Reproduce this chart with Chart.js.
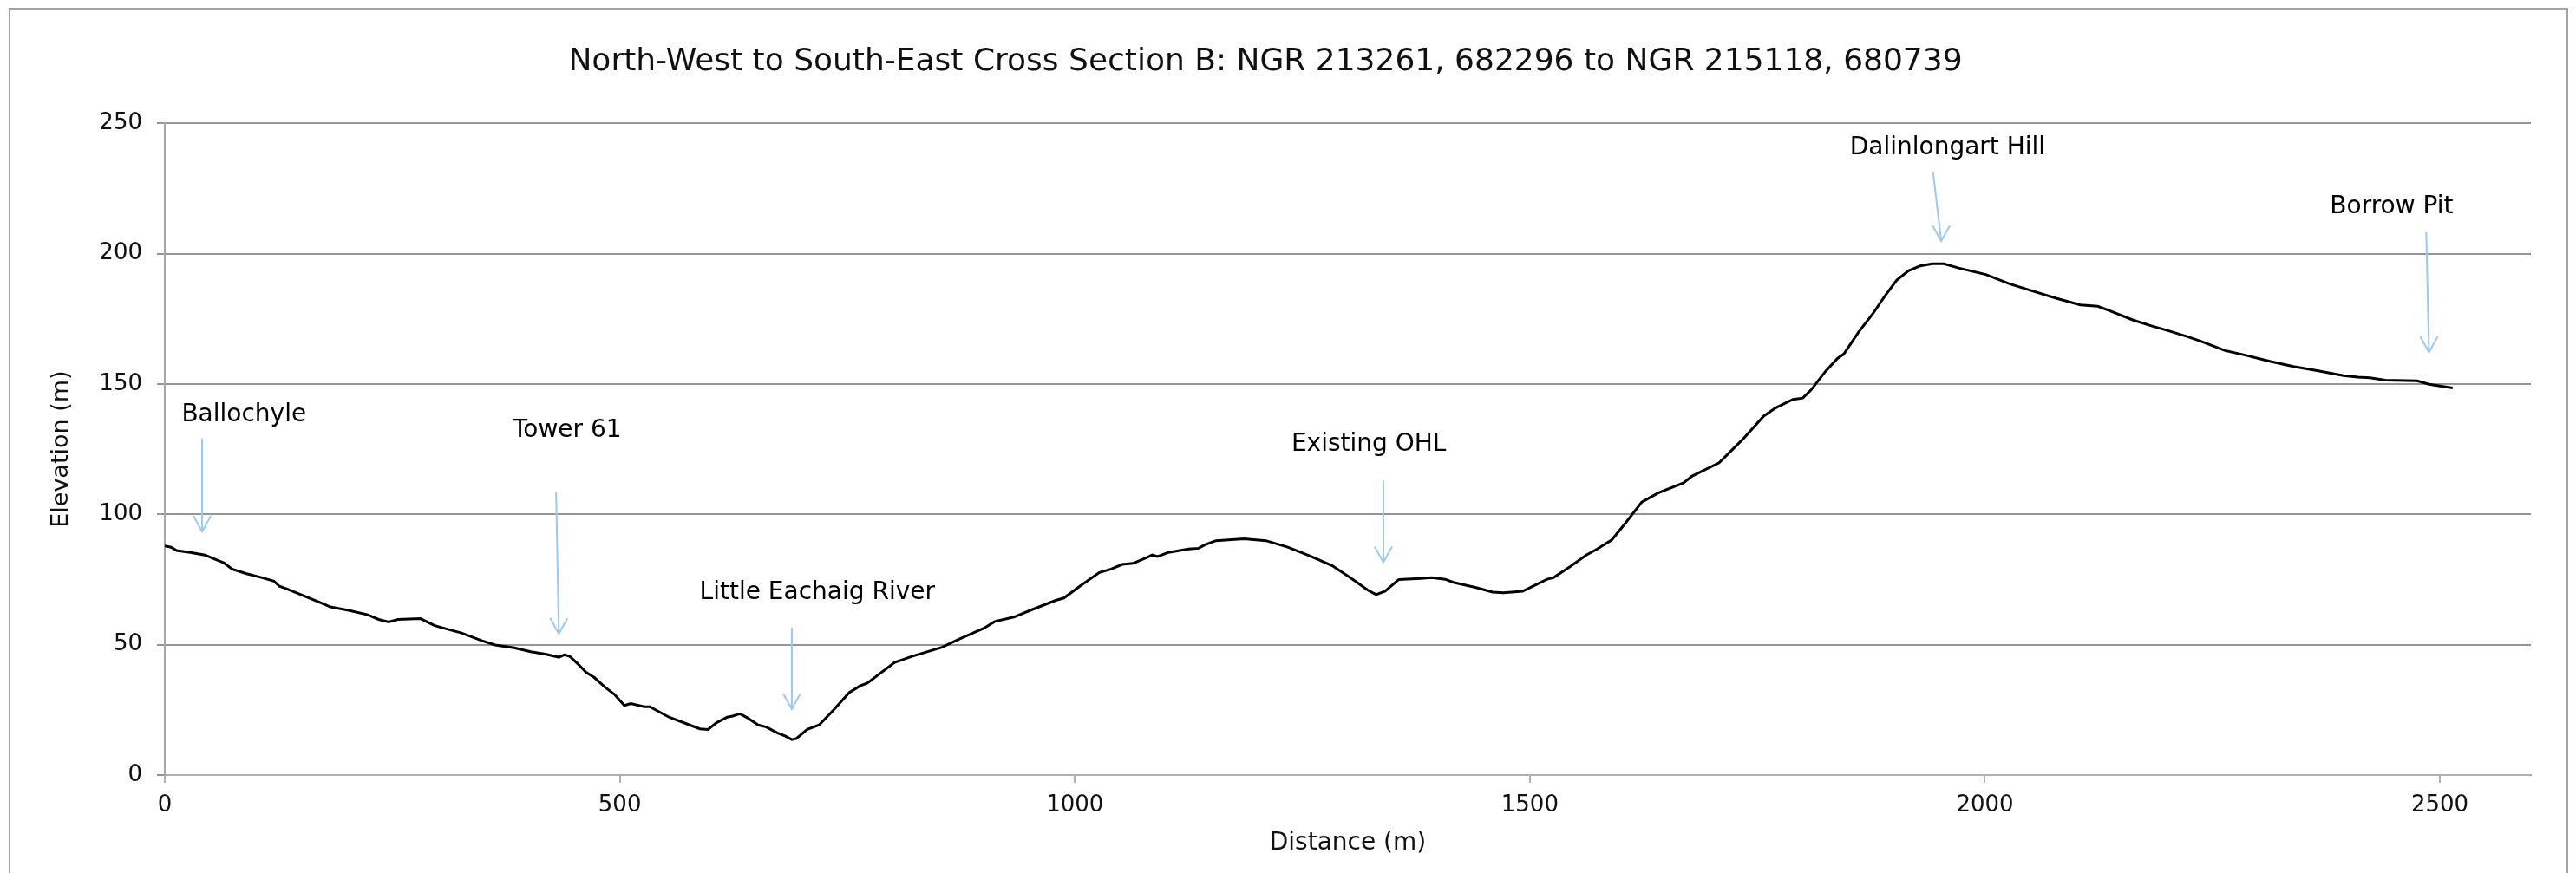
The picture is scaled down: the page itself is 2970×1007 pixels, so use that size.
<!DOCTYPE html>
<html>
<head>
<meta charset="utf-8">
<title>Cross Section B</title>
<script src="https://cdn.jsdelivr.net/npm/chart.js@4.4.1/dist/chart.umd.min.js"></script>
<style>
    html, body { margin: 0; padding: 0; background: #fff; }
    canvas { display: block; }
</style>
</head>
<body>
<canvas id="sectionChart" width="2970" height="1007"></canvas>
<script>
// profile
const distances = [
    0, 7, 13, 28, 44, 56, 65, 74, 89, 107, 120, 126, 135, 153, 171, 182, 202, 223, 235, 246,
    256, 281, 296, 305, 326, 348, 363, 384, 402, 418, 433, 439, 445, 454, 463, 472, 484, 494, 505, 512,
    527, 533, 554, 573, 588, 597, 606, 618, 624, 632, 640, 652, 661, 673, 682, 689, 694, 706, 719, 734,
    752, 764, 772, 802, 821, 854, 872, 900, 912, 933, 954, 979, 988, 1006, 1027, 1040, 1052, 1064, 1079, 1085,
    1091, 1103, 1125, 1136, 1143, 1155, 1186, 1210, 1234, 1258, 1283, 1304, 1322, 1331, 1341, 1356, 1380, 1392, 1407, 1416,
    1441, 1459, 1471, 1492, 1502, 1519, 1526, 1544, 1562, 1574, 1590, 1605, 1623, 1641, 1669, 1678, 1708, 1734, 1757, 1770,
    1789, 1800, 1809, 1825, 1838, 1845, 1861, 1877, 1890, 1903, 1916, 1929, 1942, 1955, 1971, 2001, 2027, 2053, 2079, 2105,
    2124, 2137, 2163, 2183, 2202, 2222, 2238, 2264, 2287, 2313, 2339, 2365, 2394, 2410, 2423, 2440, 2475, 2488, 2514
];
const elevations = [
    87.9, 87.4, 86.1, 85.4, 84.4, 82.7, 81.4, 79.0, 77.3, 75.7, 74.4, 72.4, 71.3, 68.7, 66.1, 64.5, 63.2, 61.5, 59.7, 58.7,
    59.7, 60.0, 57.4, 56.5, 54.5, 51.6, 49.9, 48.8, 47.3, 46.4, 45.2, 46.1, 45.5, 42.6, 39.4, 37.4, 33.6, 31.0, 26.7, 27.4,
    26.2, 26.2, 22.2, 19.7, 17.7, 17.5, 20.0, 22.2, 22.6, 23.5, 22.0, 19.2, 18.4, 16.2, 14.9, 13.6, 14.0, 17.5, 19.2, 24.6,
    31.6, 34.2, 35.3, 43.2, 45.5, 49.0, 52.0, 56.3, 58.9, 60.6, 63.6, 67.0, 67.9, 72.6, 77.7, 79.0, 80.8, 81.2, 83.4, 84.4,
    83.8, 85.4, 86.7, 87.0, 88.3, 89.9, 90.6, 89.9, 87.4, 84.1, 80.3, 75.4, 70.9, 69.2, 70.5, 75.0, 75.4, 75.7, 75.1, 73.9,
    71.9, 70.2, 69.9, 70.5, 72.2, 75.1, 75.7, 79.9, 84.4, 86.7, 90.2, 96.6, 104.7, 108.2, 112.1, 114.6, 119.8, 128.8, 137.7, 140.8,
    144.1, 144.6, 147.7, 154.9, 159.8, 161.5, 169.8, 177.0, 183.7, 189.8, 193.4, 195.3, 196.1, 196.1, 194.5, 192.0, 188.4, 185.6, 182.8, 180.3,
    179.8, 178.1, 174.5, 172.3, 170.4, 168.2, 166.3, 162.8, 161.0, 158.7, 156.7, 155.1, 153.2, 152.6, 152.4, 151.5, 151.2, 149.9, 148.5
];

// labelled places with their arrows (distance / elevation)
const placeNames = ['Ballochyle', 'Tower 61', 'Little Eachaig River', 'Existing OHL', 'Dalinlongart Hill', 'Borrow Pit'];
const nameX = [87, 442, 717, 1323, 1959, 2447];
const nameY = [138, 132, 69.8, 126.7, 240.5, 217.8];
const arrowTopX = [41, 430, 689, 1339, 1943, 2485];
const arrowTopY = [129.1, 108.4, 56.5, 113, 231.4, 208.2];
const arrowTipX = [41, 433, 689, 1339, 1952, 2488];
const arrowTipY = [93.4, 54.2, 25.3, 81.6, 204.8, 162.2];

const xTicks = [0, 500, 1000, 1500, 2000, 2500];
const yTicks = [0, 50, 100, 150, 200, 250];

const points = distances.map((d, i) => ({ x: d, y: elevations[i] }));

const frame = {
    id: 'frame',
    beforeDraw(chart) {
        const c = chart.ctx;
        c.save();
        c.fillStyle = '#fff';
        c.fillRect(0, 0, chart.width, chart.height);
        c.strokeStyle = '#a3a3a3';
        c.lineWidth = 2;
        c.strokeRect(11, 10, 2949, 1100);
        c.restore();
    }
};

const places = {
    id: 'places',
    afterDatasetsDraw(chart) {
        const c = chart.ctx;
        const xs = chart.scales.x;
        const ys = chart.scales.y;
        c.save();
        c.font = '28px "DejaVu Sans"';
        c.fillStyle = '#000';
        c.textAlign = 'center';
        c.textBaseline = 'middle';
        placeNames.forEach((name, i) => {
            c.fillText(name, xs.getPixelForValue(nameX[i]), ys.getPixelForValue(nameY[i]));
        });
        c.strokeStyle = '#9ec8ee';
        c.lineWidth = 2;
        placeNames.forEach((name, i) => {
            const x1 = xs.getPixelForValue(arrowTopX[i]);
            const y1 = ys.getPixelForValue(arrowTopY[i]);
            const x2 = xs.getPixelForValue(arrowTipX[i]);
            const y2 = ys.getPixelForValue(arrowTipY[i]);
            c.beginPath();
            c.moveTo(x1, y1);
            c.lineTo(x2, y2);
            c.moveTo(x2 - 10, y2 - 18);
            c.lineTo(x2, y2);
            c.lineTo(x2 + 10, y2 - 18);
            c.stroke();
        });
        c.restore();
    }
};

const ctx = document.getElementById('sectionChart').getContext('2d');
new Chart(ctx, {
    type: 'line',
    data: {
        datasets: [{
            label: 'Elevation',
            data: points,
            borderColor: '#000',
            borderWidth: 3,
            pointRadius: 0,
            fill: false,
            tension: 0
        }]
    },
    options: {
        responsive: false,
        animation: false,
        devicePixelRatio: 1,
        layout: {
            padding: { left: 0, right: 52, top: 0, bottom: 0 }
        },
        scales: {
            x: {
                type: 'linear',
                min: 0,
                max: 2600,
                afterFit: (scale) => { scale.height = 113; },
                afterBuildTicks: (scale) => { scale.ticks = xTicks.map(v => ({ value: v })); },
                ticks: {
                    maxRotation: 0,
                    padding: 11,
                    color: '#111',
                    font: { family: 'DejaVu Sans', size: 26 },
                    callback: (v) => String(v)
                },
                grid: {
                    drawOnChartArea: false,
                    tickLength: 9,
                    color: '#b0b0b0',
                    lineWidth: 2
                },
                border: { color: '#b0b0b0', width: 2 },
                title: {
                    display: true,
                    text: 'Distance (m)',
                    color: '#111',
                    padding: { top: 0, bottom: 17 },
                    font: { family: 'DejaVu Sans', size: 28 }
                }
            },
            y: {
                min: 0,
                max: 250,
                afterFit: (scale) => { scale.width = 190; },
                afterBuildTicks: (scale) => { scale.ticks = yTicks.map(v => ({ value: v })); },
                ticks: {
                    padding: 17,
                    color: '#111',
                    font: { family: 'DejaVu Sans', size: 26 },
                    callback: (v) => String(v)
                },
                grid: {
                    tickLength: 9,
                    color: '#959595',
                    lineWidth: 2
                },
                border: { color: '#a8a8a8', width: 2 },
                title: {
                    display: true,
                    text: 'Elevation (m)',
                    color: '#111',
                    padding: { top: 55, bottom: 0 },
                    font: { family: 'DejaVu Sans', size: 27 }
                }
            }
        },
        plugins: {
            legend: { display: false },
            tooltip: { enabled: false },
            title: {
                display: true,
                text: 'North-West to South-East Cross Section B: NGR 213261, 682296 to NGR 215118, 680739',
                color: '#111',
                padding: { top: 50, bottom: 49 },
                font: { family: 'DejaVu Sans', size: 36, weight: 'normal' }
            }
        }
    },
    plugins: [frame, places]
});
</script>
</body>
</html>
